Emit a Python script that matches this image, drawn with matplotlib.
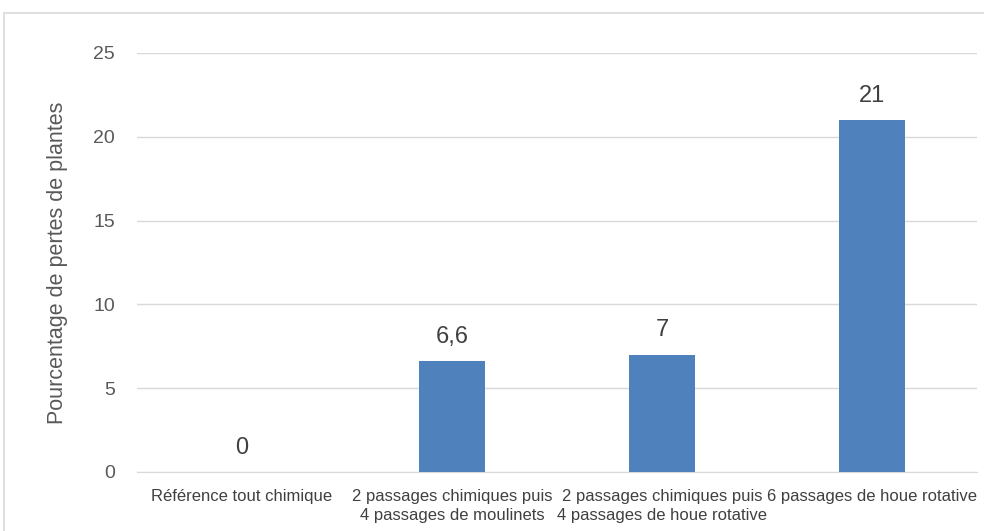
import matplotlib
matplotlib.use('Agg')
import matplotlib.pyplot as plt
from matplotlib.patches import Rectangle

plt.rcParams['font.family'] = ['Liberation Sans Narrow', 'Liberation Sans', 'DejaVu Sans']

categories = ['Référence tout chimique',
              '2 passages chimiques puis\n4 passages de moulinets',
              '2 passages chimiques puis\n4 passages de houe rotative',
              '6 passages de houe rotative']
values = [0, 6.6, 7, 21]
value_labels = ['0', '6,6', '7', '21']
yticks = [0, 5, 10, 15, 20, 25]

text_col = '#595959'
bar_col = '#4f81bd'

fig = plt.figure(figsize=(9.84, 5.31), dpi=100)
# light frame around the chart area
fig.patches.append(Rectangle((4/984, -0.1), 1.1, 1 - 13/531 + 0.1, transform=fig.transFigure,
                             fill=False, edgecolor='#d9d9d9', linewidth=1.2))
ax = fig.add_axes([137/984, 1 - 472/531, 840/984, (472 - 53)/531])

x = range(len(categories))
bars = ax.bar(x, values, width=0.315, color=bar_col, zorder=3)
for xi, v, lab in zip(x, values, value_labels):
    ax.text(xi, v + 0.8, lab, ha='center', va='bottom', fontsize=17, color='#404040')

ax.set_xlim(-0.5, len(categories) - 0.5)
ax.set_ylim(0, 25)
ax.set_yticks(yticks)
ax.set_yticklabels([str(t) for t in yticks], fontsize=14, color=text_col)
ax.set_xticks(list(x))
ax.set_xticklabels(categories, fontsize=12, color='#404040', linespacing=1.4)
ax.tick_params(axis='x', length=0, pad=12)
ax.tick_params(axis='y', length=0, pad=16)
ax.grid(axis='y', color='#d9d9d9', linewidth=1, zorder=0)
for s in ['top', 'right', 'left']:
    ax.spines[s].set_visible(False)
ax.spines['bottom'].set_color('#d9d9d9')

ax.set_ylabel('Pourcentage de pertes de plantes', fontsize=15.5, color=text_col, labelpad=18)

fig.savefig('out.png', dpi=100)
